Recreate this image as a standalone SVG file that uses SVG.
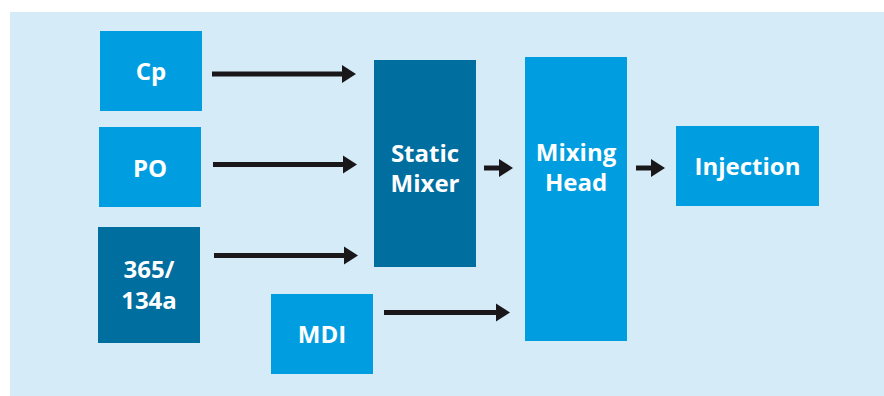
<svg xmlns="http://www.w3.org/2000/svg" width="884" height="396" viewBox="0 0 884 396">
  <style>
    .bg { fill: #d5ebf8; }
    .light { fill: #009ee0; }
    .dark { fill: #006e9e; }
    .label { font-family: "Open Sans", "Liberation Sans", sans-serif; font-weight: bold; font-size: 24px; fill: #ffffff; text-anchor: middle; }
    .conn { stroke: #1a171b; stroke-width: 5; fill: none; }
    .head { fill: #1a171b; }
  </style>
  <rect class="bg" x="10" y="12" width="874" height="384"/>

  <g id="cp">
    <rect class="light" x="100" y="31" width="102" height="80"/>
    <text class="label" x="151" y="80">Cp</text>
  </g>
  <g id="po">
    <rect class="light" x="99" y="127" width="102" height="80"/>
    <text class="label" x="150" y="176.5">PO</text>
  </g>
  <g id="blowing-agent">
    <rect class="dark" x="98" y="227" width="102" height="116"/>
    <text class="label" x="149" y="278">365/</text>
    <text class="label" x="149" y="309">134a</text>
  </g>
  <g id="mdi">
    <rect class="light" x="271" y="294" width="102" height="80"/>
    <text class="label" x="322" y="342.5">MDI</text>
  </g>
  <g id="static-mixer">
    <rect class="dark" x="374" y="60" width="102" height="207"/>
    <text class="label" x="425" y="162">Static</text>
    <text class="label" x="425" y="192">Mixer</text>
  </g>
  <g id="mixing-head">
    <rect class="light" x="525" y="57" width="102" height="284"/>
    <text class="label" x="576" y="161">Mixing</text>
    <text class="label" x="576" y="191">Head</text>
  </g>
  <g id="injection">
    <rect class="light" x="676" y="126" width="143" height="80"/>
    <text class="label" x="747.5" y="174.5">Injection</text>
  </g>

  <g id="connectors">
    <line class="conn" x1="212" y1="74" x2="343" y2="74"/>
    <polygon class="head" points="342,65 356,74 342,83"/>
    <line class="conn" x1="213" y1="164.5" x2="344" y2="164.5"/>
    <polygon class="head" points="343,155.5 357,164.5 343,173.5"/>
    <line class="conn" x1="214" y1="255.5" x2="345" y2="255.5"/>
    <polygon class="head" points="344,246.5 358,255.5 344,264.5"/>
    <line class="conn" x1="384" y1="312.5" x2="497" y2="312.5"/>
    <polygon class="head" points="496,303.5 510,312.5 496,321.5"/>
    <line class="conn" x1="484" y1="168" x2="500" y2="168"/>
    <polygon class="head" points="499,159 513,168 499,177"/>
    <line class="conn" x1="636" y1="168" x2="652" y2="168"/>
    <polygon class="head" points="651,159 665,168 651,177"/>
  </g>
</svg>
